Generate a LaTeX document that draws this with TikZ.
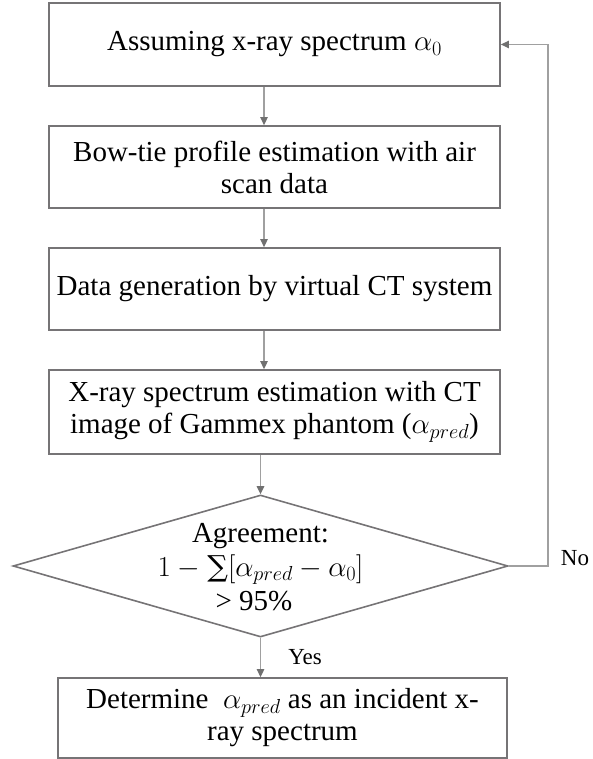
\RequirePackage{fix-cm}
\documentclass[tikz,border=0pt]{standalone}
\usepackage{fontspec}
\setmainfont{Liberation Serif}
\newfontfamily\symf{DejaVu Serif}
\usetikzlibrary{arrows.meta,shapes.geometric}
\definecolor{boxcol}{RGB}{118,116,118}
\definecolor{linecol}{RGB}{160,160,160}
\definecolor{tipcol}{RGB}{112,112,112}
\begin{document}
\begin{tikzpicture}[x=1pt,y=-1pt,
  procbox/.style={draw=boxcol,line width=1.8pt,minimum width=451pt,minimum height=83pt,
    inner sep=0pt,align=center,font=\fontsize{29}{32}\selectfont},
  decbox/.style={draw=boxcol,line width=1.6pt,shape=diamond,minimum width=495pt,
    minimum height=142pt,inner sep=0pt},
  dtxt/.style={anchor=base,inner sep=0pt,font=\fontsize{29}{33}\selectfont},
  lbl/.style={font=\fontsize{23}{26}\selectfont,inner sep=0pt},
  conn/.style={draw=linecol,line width=1.3pt,-{Triangle[length=8pt,width=7.5pt,color=tipcol]}},
  plain/.style={draw=linecol,line width=1.3pt}]
\useasboundingbox (0,0) rectangle (592,759);
\node[procbox] (b1) at (274.5,44.5) {Assuming x-ray spectrum $\alpha_0$};
\node[procbox,minimum height=82pt] (b2) at (274.5,167) {Bow-tie profile estimation with air\\scan data};
\node[procbox,minimum height=82pt] (b3) at (274.5,289) {Data generation by virtual CT system};
\node[procbox,minimum height=84pt] (b4) at (274.5,412) {X-ray spectrum estimation with CT\\image of Gammex phantom ($\alpha_{pred}$)};
\node[decbox] (d) at (260.5,566) {};
\node[dtxt] (dt1) at (260.5,542) {Agreement:};
\node[dtxt] (dt2) at (260.5,576) {$1-{}$\kern1pt{\symf ∑}$[\alpha_{pred}-\alpha_0]$};
\node[dtxt] (dt3) at (254,610) {> 95\%};
\node[procbox,minimum width=449pt,minimum height=80pt] (fin) at (282.5,718)
  {Determine \ $\alpha_{pred}$ as an incident x-\\ray spectrum};
\coordinate (ax) at (264,0);
\coordinate (fb) at (548,0);
\draw[conn] (b1.south -| ax) -- (b2.north -| ax);
\draw[conn] (b2.south -| ax) -- (b3.north -| ax);
\draw[conn] (b3.south -| ax) -- (b4.north -| ax);
\draw[conn] (b4.south -| d.north) -- (d.north);
\draw[conn] (d.south) -- (d.south |- fin.north);
\draw[conn] (d.east) -| (fb |- b1.east) -- (b1.east);
\node[lbl] (no) at (575,558) {No};
\node[lbl] (yes) at (305,657) {Yes};
\end{tikzpicture}
\end{document}
